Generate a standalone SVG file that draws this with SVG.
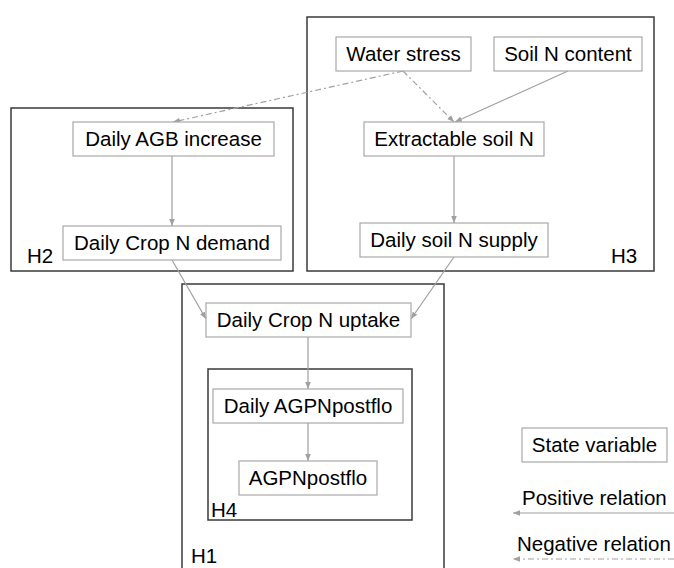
<svg xmlns="http://www.w3.org/2000/svg" width="674" height="568" viewBox="0 0 674 568">
<style>
text{font-family:"Liberation Sans",Arial,sans-serif;font-size:20.5px;fill:#000}
.grp{fill:none;stroke:#3a3a3a;stroke-width:1.5}
.node{fill:#fff;stroke:#a8a8a8;stroke-width:1.2}
.pos{fill:none;stroke:#a0a0a0;stroke-width:1.2;marker-end:url(#ah)}
.neg{fill:none;stroke:#a0a0a0;stroke-width:1.2;stroke-dasharray:6 3 2 3;marker-end:url(#ah)}
</style>
<defs>
<marker id="ah" viewBox="0 0 10 10" refX="10" refY="5" markerWidth="7" markerHeight="7" markerUnits="userSpaceOnUse" orient="auto">
<path d="M0,1 L10,5 L0,9 z" fill="#a0a0a0"/>
</marker>
</defs>
<rect width="674" height="568" fill="#fff"/>
<g id="groups">
<g id="H3"><rect class="grp" x="307" y="17" width="347" height="254"/><text x="611" y="263">H3</text></g>
<g id="H2"><rect class="grp" x="11" y="108" width="282" height="163"/><text x="27" y="263">H2</text></g>
<g id="H1"><rect class="grp" x="182" y="284" width="262" height="300"/><text x="191" y="563">H1</text></g>
<g id="H4"><rect class="grp" x="208" y="369" width="204" height="151"/><text x="211" y="517">H4</text></g>
</g>
<g id="connectors">
<line class="neg" x1="403" y1="71" x2="173" y2="122"/>
<line class="neg" x1="403" y1="71" x2="454" y2="122"/>
<line class="pos" x1="568" y1="71" x2="455" y2="122"/>
<line class="pos" x1="454" y1="156" x2="454" y2="223"/>
<line class="pos" x1="172" y1="156" x2="172" y2="226"/>
<line class="pos" x1="172" y1="260" x2="206" y2="319"/>
<line class="pos" x1="454" y1="257" x2="411" y2="319"/>
<line class="pos" x1="308" y1="337" x2="308" y2="389"/>
<line class="pos" x1="308" y1="423" x2="308" y2="461"/>
<line class="pos" x1="674" y1="513" x2="513" y2="513"/>
<line class="neg" x1="674" y1="559" x2="513" y2="559"/>
</g>
<g id="water-stress"><rect class="node" x="336" y="37" width="135" height="34"/><text x="403.5" y="61" text-anchor="middle">Water stress</text></g>
<g id="soil-n-content"><rect class="node" x="494" y="37" width="148" height="34"/><text x="568" y="61" text-anchor="middle">Soil N content</text></g>
<g id="extractable-soil-n"><rect class="node" x="364" y="122" width="180" height="34"/><text x="454" y="146" text-anchor="middle">Extractable soil N</text></g>
<g id="daily-soil-n-supply"><rect class="node" x="360" y="223" width="188" height="34"/><text x="454" y="247" text-anchor="middle">Daily soil N supply</text></g>
<g id="daily-agb-increase"><rect class="node" x="73" y="122" width="201" height="34"/><text x="173.5" y="146" text-anchor="middle">Daily AGB increase</text></g>
<g id="daily-crop-n-demand"><rect class="node" x="63" y="226" width="218" height="34"/><text x="172" y="250" text-anchor="middle">Daily Crop N demand</text></g>
<g id="daily-crop-n-uptake"><rect class="node" x="206" y="303" width="205" height="34"/><text x="308.5" y="327" text-anchor="middle">Daily Crop N uptake</text></g>
<g id="daily-agpnpostflo"><rect class="node" x="213" y="389" width="190" height="34"/><text x="308" y="413" text-anchor="middle">Daily AGPNpostflo</text></g>
<g id="agpnpostflo"><rect class="node" x="239" y="461" width="138" height="34"/><text x="308" y="485" text-anchor="middle">AGPNpostflo</text></g>
<g id="legend">
<g id="legend-state"><rect class="node" x="522" y="428" width="145" height="34"/><text x="594.5" y="452" text-anchor="middle">State variable</text></g>
<text x="522" y="505">Positive relation</text>
<text x="517" y="551">Negative relation</text>
</g>
</svg>
